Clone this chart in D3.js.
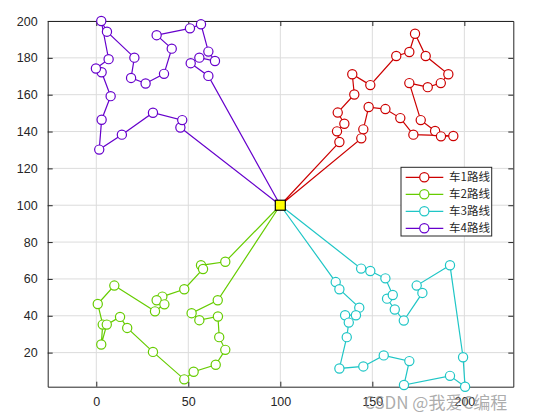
<!DOCTYPE html>
<html><head><meta charset="utf-8">
<script src="https://cdn.jsdelivr.net/npm/d3@7"></script>
<style>body{margin:0;background:#fff}svg{display:block}</style>
</head><body>
<svg id="chart" width="539" height="420"></svg>
<script>
const depot = [100, 100];
const seriesNames = ["车1路线", "车2路线", "车3路线", "车4路线"];
const seriesColors = ["#CC0000", "#66CC00", "#1FC6C6", "#6600CC"];
const car1x = [132.1,130.8,134.8,131.2,140.2,139.1,148.9,163,170.1,173.2,179,191.3,187.2,180.1,170.1,176.3,184.1,187.3,194,172.3,165.2,157.1,148,145.1,144];
const car1y = [134.3,140.1,144.2,150.3,160.1,171.1,165.2,181,183.2,193.1,181,171.1,166.3,164.1,166.3,146.2,140.3,137.4,137.6,138.3,147.3,152.2,153.3,141.2,136.3];
const car2x = [70.1,56.9,58,47.8,35.9,32.8,37,31.9,9.8,0.8,3.5,2.7,5.7,12.9,16.8,30.8,47.8,52.9,64.9,70.1,66.8,66.1,56,51.8,66];
const car2y = [69.3,67.4,65.4,54.4,50.4,48.4,46.2,42.4,56.4,46.4,35.2,24.4,35.2,39.4,33.4,20.4,5.5,9.6,13.4,21.5,28.4,39.6,37.6,41.4,48.4];
const car3x = [130.1,132.1,142.9,141.1,135.2,137.2,136.1,132.1,145.1,156.2,170.1,167.2,192.2,200.4,199.3,192.2,174.1,177.2,167.1,162.2,158,161.1,157.1,148.9,143.9];
const car3y = [58.3,54.4,44.4,40.3,40.3,36.3,28.4,11.4,12.5,18.5,15.4,2.4,7.4,1.5,17.5,67.4,56.4,52.4,37.4,43.4,49.3,51.3,60.3,64.3,65.6];
const car4x = [45.7,46.7,30.8,13.9,1.6,2.9,7.8,2.9,-0.2,6.7,2.7,5.8,20.7,18.9,26.8,36.8,41,32.8,50.9,56.9,60.9,64.5,56,51.3,60.9];
const car4y = [142.2,146.2,150.2,138.3,130.2,146.4,159.2,172.2,174.2,179.3,200,194.2,180.1,169.1,166.1,171.3,185,192.3,196,198.2,183.4,178.3,180.1,177.1,170.2];
const xTicks = [0, 50, 100, 150, 200];
const yTicks = [20, 40, 60, 80, 100, 120, 140, 160, 180, 200];
const xDomain = [-26.4, 226.6];
const yDomain = [1.5, 200];

const svg = d3.select("#chart");
const L = 47.7, R = 513.3, T = 21, B = 386.7;
const W = R - L, H = B - T;
const x = d3.scaleLinear().domain(xDomain).range([L, R]);
const y = d3.scaleLinear().domain(yDomain).range([B, T]);

// grid
const grid = svg.append("g");
grid.selectAll("line.gx").data(xTicks).join("line")
  .attr("x1", d => x(d)).attr("x2", d => x(d)).attr("y1", T).attr("y2", B)
  .attr("stroke", "#dcdcdc").attr("stroke-width", 1);
grid.selectAll("line.gy").data(yTicks).join("line")
  .attr("y1", d => y(d)).attr("y2", d => y(d)).attr("x1", L).attr("x2", R)
  .attr("stroke", "#dcdcdc").attr("stroke-width", 1);

// axes
const fontTick = "'Liberation Sans', Arial, Helvetica, sans-serif";
function styleAxis(g) {
  g.select(".domain").attr("stroke", "#262626").attr("stroke-width", 1);
  g.selectAll(".tick line").attr("stroke", "#262626");
  g.selectAll(".tick text").attr("fill", "#262626").style("font-family", fontTick).style("font-size", "12.5px");
}
svg.append("g").attr("transform", `translate(0,${B})`)
  .call(d3.axisBottom(x).tickValues(xTicks).tickSizeInner(-5).tickSizeOuter(0).tickPadding(10))
  .call(styleAxis);
svg.append("g").attr("transform", `translate(0,${T})`)
  .call(d3.axisTop(x).tickValues(xTicks).tickSizeInner(-5).tickSizeOuter(0).tickFormat(""))
  .call(styleAxis);
svg.append("g").attr("transform", `translate(${L},0)`)
  .call(d3.axisLeft(y).tickValues(yTicks).tickSizeInner(-5).tickSizeOuter(0).tickPadding(10))
  .call(styleAxis);
svg.append("g").attr("transform", `translate(${R},0)`)
  .call(d3.axisRight(y).tickValues(yTicks).tickSizeInner(-5).tickSizeOuter(0).tickFormat(""))
  .call(styleAxis);

// routes
const cars = [[car1x, car1y], [car2x, car2y], [car3x, car3y], [car4x, car4y]];
const line = d3.line().x(d => x(d[0])).y(d => y(d[1]));
cars.forEach(([cx, cy], i) => {
  const pts = cx.map((v, k) => [v, cy[k]]);
  const route = [depot, ...pts, depot];
  const g = svg.append("g");
  g.append("path").attr("d", line(route)).attr("fill", "none")
    .attr("stroke", seriesColors[i]).attr("stroke-width", 1.2);
  g.selectAll("circle").data(pts).join("circle")
    .attr("cx", d => x(d[0])).attr("cy", d => y(d[1])).attr("r", 4.6)
    .attr("fill", "#fff").attr("stroke", seriesColors[i]).attr("stroke-width", 1.2);
});

// depot
svg.append("rect").attr("x", x(depot[0]) - 5).attr("y", y(depot[1]) - 5)
  .attr("width", 10).attr("height", 10).attr("fill", "#ffff00").attr("stroke", "#000").attr("stroke-width", 1.2);

// legend
const lg = svg.append("g");
lg.append("rect").attr("x", 401).attr("y", 167.3).attr("width", 90.7).attr("height", 68.7)
  .attr("fill", "#fff").attr("stroke", "#262626").attr("stroke-width", 1);
seriesNames.forEach((name, i) => {
  const ly = 177.3 + i * 17;
  lg.append("line").attr("x1", 405.7).attr("x2", 443.3).attr("y1", ly).attr("y2", ly)
    .attr("stroke", seriesColors[i]).attr("stroke-width", 1.2);
  lg.append("circle").attr("cx", 424.3).attr("cy", ly).attr("r", 4.6)
    .attr("fill", "#fff").attr("stroke", seriesColors[i]).attr("stroke-width", 1.2);
  lg.append("text").attr("x", 449).attr("y", ly + 4).text(name)
    .attr("fill", "#262626").style("font-family", "'Noto Sans CJK SC', sans-serif").style("font-size", "11.5px");
});

// watermark
svg.append("text").attr("x", 364).attr("y", 409).text("CSDN @我爱C编程")
  .attr("fill", "#888").attr("fill-opacity", 0.7)
  .style("font-family", "'Noto Sans CJK SC', sans-serif").style("font-size", "17px");
</script>
</body></html>
